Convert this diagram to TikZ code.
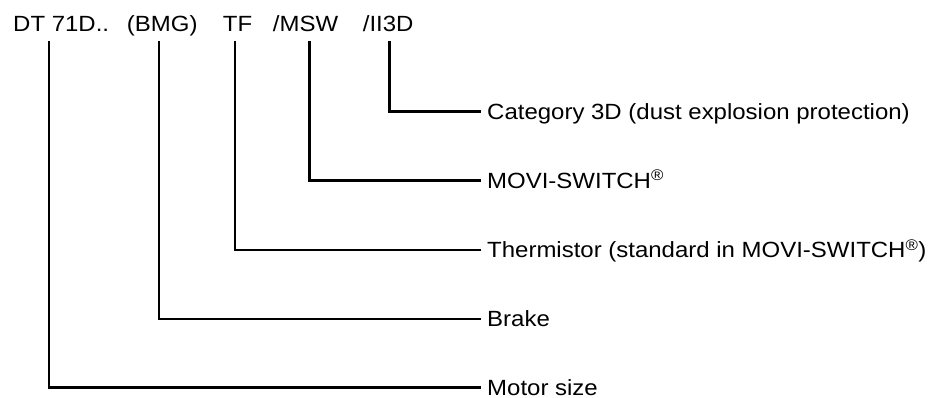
\documentclass[tikz,border=0pt]{standalone}
\usepackage{fontspec}
\setmainfont{Liberation Sans}[FakeStretch=1.09]
\usepackage{tikz}
\usetikzlibrary{positioning}

\begin{document}
\begin{tikzpicture}[
        x=1pt, y=-1pt,
        codepart/.style={inner sep=0pt, anchor=base west, font=\fontsize{22}{26}\selectfont},
        meaning/.style={anchor=west, inner xsep=6pt, inner ysep=0pt, text height=15.75pt, text depth=0pt, font=\fontsize{22}{26}\selectfont},
        leader/.style={line width=2.8pt, color=black}
    ]
        \useasboundingbox (0,0) rectangle (930,397);

        % Type designation
        \node[codepart] (dt)   at (13,31.5)    {DT 71D..};
        \node[codepart] (bmg)  at (126.7,31.5) {(BMG)};
        \node[codepart] (tf)   at (222.7,31.5) {TF};
        \node[codepart] (msw)  at (272.7,31.5) {/MSW};
        \node[codepart] (ii3d) at (362.7,31.5) {/II3D};

        % Meanings
        \node[meaning] (lcat)   at (481,111.5) {Category 3D (dust explosion protection)};
        \node[meaning] (lmsw)   at (481,180.5) {MOVI-SWITCH\textsuperscript{®}};
        \node[meaning] (ltf)    at (481,250)   {Thermistor (standard in MOVI-SWITCH\textsuperscript{®})};
        \node[meaning] (lbrake) at (481,319)   {Brake};
        \node[meaning] (lsize)  at (481,387.5) {Motor size};

        % Leader lines
        \draw[leader] ([shift={(36,9.5)}]dt.base west) |- (lsize.west);
        \draw[leader] ([shift={(32.3,9.5)}]bmg.base west) |- (lbrake.west);
        \draw[leader] ([shift={(12.3,9.5)}]tf.base west) |- (ltf.west);
        \draw[leader] ([shift={(36.6,9.5)}]msw.base west) |- (lmsw.west);
        \draw[leader] ([shift={(26.6,9.5)}]ii3d.base west) |- (lcat.west);
    \end{tikzpicture}
\end{document}
